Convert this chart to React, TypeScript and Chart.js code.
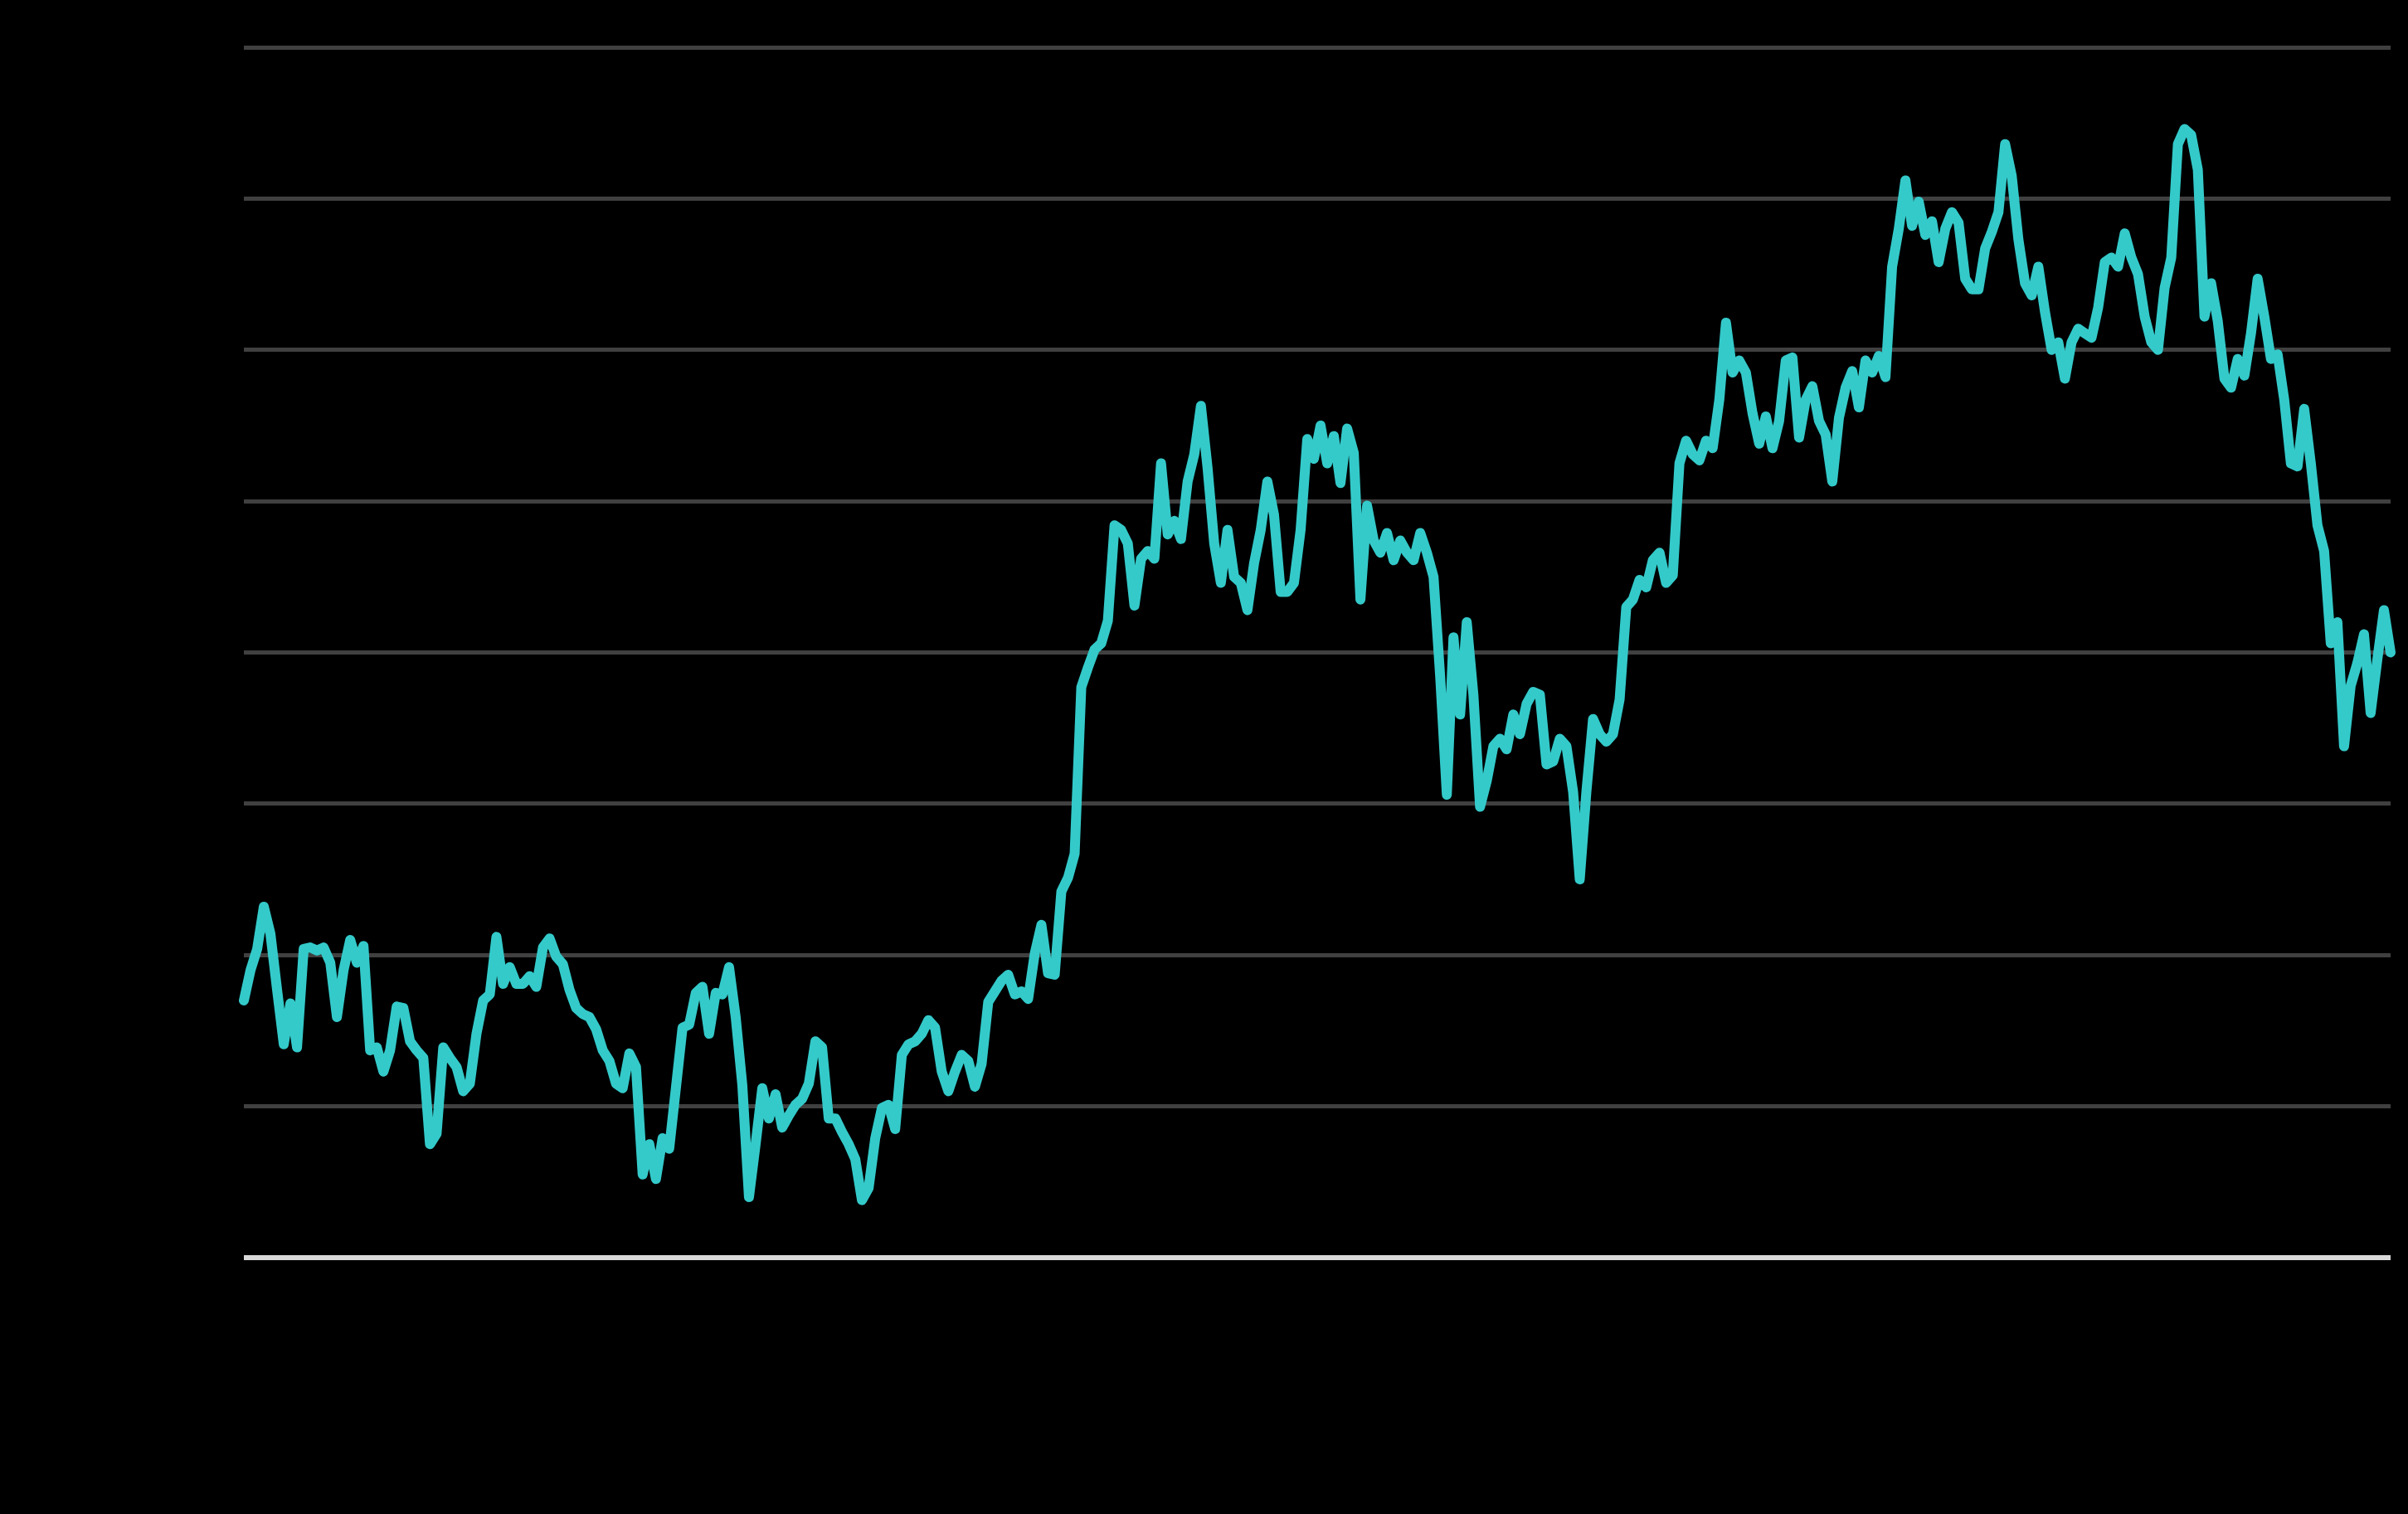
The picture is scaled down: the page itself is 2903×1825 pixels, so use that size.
import { useEffect, useRef } from "react";
import { Chart, registerables } from "chart.js";

Chart.register(...registerables);

// Series values, grouped by stretch of the timeline
const seg1 = [
  17.0, 19.0, 20.4, 23.2, 21.4, 17.7, 14.1, 16.8, 13.9, 20.4,
  20.5, 20.3, 20.5, 19.5, 15.9, 19.0, 21.0, 19.5, 20.6, 13.7,
  13.9, 12.3, 13.7, 16.6, 16.5, 14.3, 13.7, 13.2, 7.5, 8.2,
  13.9, 13.2, 12.6, 11.0, 11.5, 14.8, 17.0, 17.4, 21.2, 18.1,
  19.2, 18.1, 18.1, 18.6, 17.9, 20.5, 21.1, 19.9, 19.4, 17.7,
  16.5, 16.1, 15.9, 15.1, 13.7,
];
const seg2 = [
  13.0, 11.5, 11.2, 13.5, 12.6, 5.5, 7.5, 5.2, 7.9, 7.2,
  11.2, 15.2, 15.4, 17.5, 17.9, 14.8, 17.5, 17.4, 19.2, 15.9,
  11.4, 4.0, 7.5, 11.2, 9.2, 10.8, 8.6, 9.4, 10.1, 10.5,
  11.5, 14.3, 13.9, 9.2, 9.2, 8.3, 7.5, 6.5, 3.8, 4.6,
  7.9, 9.9, 10.1, 8.5, 13.4, 14.1, 14.3, 14.8, 15.7, 15.2,
  12.3, 11.0, 12.3, 13.4, 13.0,
];
const seg3 = [
  11.3, 12.8, 16.9, 17.6, 18.3, 18.7, 17.4, 17.6, 17.1, 20.1,
  22.0, 18.8, 18.7, 24.2, 25.1, 26.7, 37.7, 39.0, 40.2, 40.6,
  42.1, 48.4, 48.1, 47.2, 43.1, 46.2, 46.7, 46.2, 52.5, 47.8,
  48.7, 47.5, 51.3, 53.1, 56.3, 52.2, 47.2, 44.6, 48.1, 45.0,
  44.6, 42.8, 45.9, 48.1, 51.3, 49.1, 44.0, 44.0, 44.6, 48.1,
  54.1, 52.8, 55.0, 52.5,
];
const seg4 = [
  54.3, 51.2, 54.8, 53.2, 43.5, 49.7, 47.4, 46.6, 47.9, 46.1,
  47.4, 46.6, 46.1, 47.9, 46.6, 45.0, 38.4, 30.6, 41.0, 35.9,
  42.0, 37.2, 29.8, 31.5, 33.8, 34.3, 33.6, 35.9, 34.6, 36.6,
  37.4, 37.2, 32.6, 32.8, 34.3, 33.8, 30.8, 25.0, 30.8, 35.6,
  34.6, 34.1, 34.6, 36.9, 43.0, 43.5, 44.8, 44.3, 46.1, 46.6,
  44.6, 45.1, 52.5, 54.0,
];
const seg5 = [
  53.1, 52.7, 54.0, 53.5, 56.7, 61.8, 58.5, 59.3, 58.5, 55.8,
  53.8, 55.6, 53.5, 55.3, 59.3, 59.5, 54.2, 56.7, 57.6, 55.3,
  54.4, 51.3, 55.5, 57.5, 58.6, 56.2, 59.3, 58.5, 59.6, 58.2,
  65.5, 68.0, 71.2, 68.2, 69.8, 67.6, 68.5, 65.8, 68.0, 69.1,
  68.4, 64.7, 64.0, 64.0, 66.7, 67.8, 69.1, 73.6, 71.5, 67.3,
  64.4, 63.6, 65.5, 62.5, 60.0,
];
const seg6 = [
  60.5, 58.1, 60.5, 61.4, 61.1, 60.8, 62.8, 65.8, 66.1, 65.5,
  67.7, 66.1, 65.0, 62.2, 60.5, 60.0, 64.1, 66.1, 73.6, 74.6,
  74.2, 71.9, 62.2, 64.4, 61.9, 58.1, 57.5, 59.4, 58.3, 61.1,
  64.7, 62.2, 59.4, 59.7, 56.7, 52.5, 52.3, 56.1, 52.5, 48.4,
  46.7, 40.6, 42.0, 33.8, 37.8, 39.3, 41.2, 36.0, 39.5, 42.8,
  40.0,
];

const values = [...seg1, ...seg2, ...seg3, ...seg4, ...seg5, ...seg6];
const categories = values.map((_, i) => `${i + 1}`);
const yMin = 0;
const yMax = 80;
const yStep = 10;

export default function App() {
  const ref = useRef<HTMLCanvasElement>(null);

  useEffect(() => {
    document.body.style.margin = "0";
    document.body.style.background = "#000";
    const chart = new Chart(ref.current as HTMLCanvasElement, {
      type: "line",
      data: {
        labels: categories,
        datasets: [
          {
            data: values,
            borderColor: "#34CACA",
            borderWidth: 12,
            pointRadius: 0,
            pointHoverRadius: 0,
            tension: 0,
            fill: false,
            borderJoinStyle: "round",
            borderCapStyle: "round",
          },
        ],
      },
      options: {
        responsive: false,
        animation: false,
        devicePixelRatio: 1,
        layout: { padding: { left: 294, right: 21, top: 57, bottom: 309 } },
        plugins: {
          legend: { display: false },
          tooltip: { enabled: false },
        },
        scales: {
          x: { display: false },
          y: {
            min: yMin,
            max: yMax,
            ticks: { display: false, stepSize: yStep },
            border: { display: false },
            grid: {
              drawTicks: false,
              color: (ctx: any) => (ctx.tick && ctx.tick.value === yMin ? "#d9d9d9" : "#404040"),
              lineWidth: (ctx: any) => (ctx.tick && ctx.tick.value === yMin ? 6 : 5),
            },
            afterFit: (s: any) => {
              s.width = 0;
            },
          },
        },
      },
    });
    return () => chart.destroy();
  }, []);

  return (
    <div
      style={{
        position: "fixed",
        left: 0,
        top: 0,
        width: 2903,
        height: 1825,
        background: "#000",
      }}
    >
      <canvas ref={ref} width={2903} height={1825} style={{ display: "block" }} />
    </div>
  );
}
